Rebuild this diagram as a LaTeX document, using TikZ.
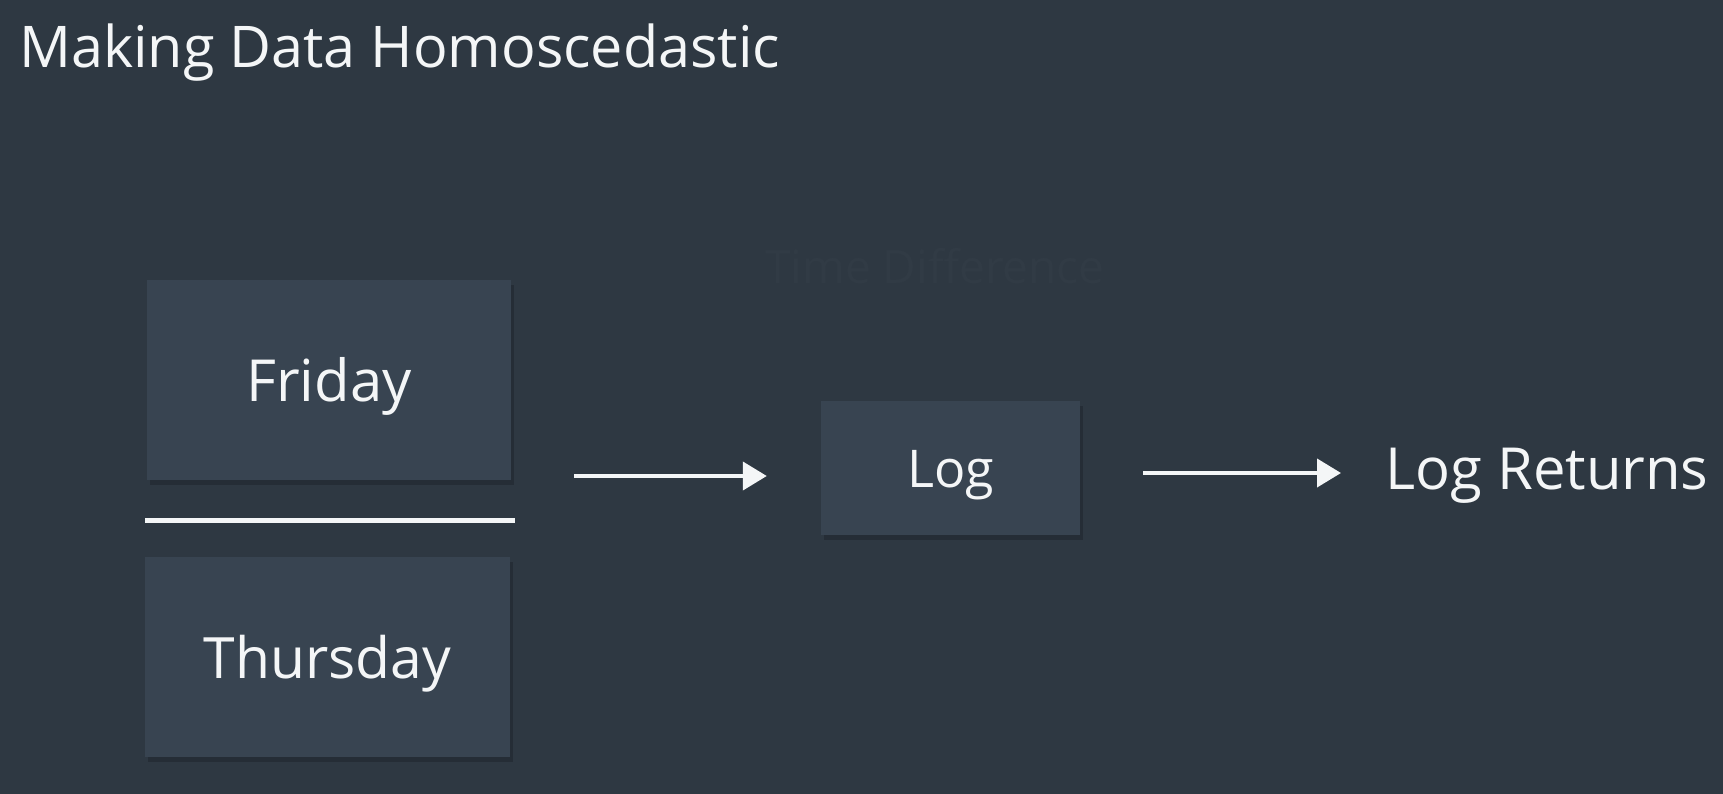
\documentclass[tikz,border=0pt]{standalone}
\usepackage{fontspec}
\setmainfont{Open Sans}
\usetikzlibrary{arrows.meta,shadows}
\definecolor{bgcol}{RGB}{46,56,66}
\definecolor{boxcol}{RGB}{56,68,81}
\definecolor{txtcol}{RGB}{244,246,247}
\definecolor{ghostcol}{RGB}{49,59,69}
\tikzset{
  box/.style={fill=boxcol, draw=none, inner sep=0pt, text=txtcol,
    font=\fontsize{58}{70}\selectfont, text height=42pt, text depth=0pt,
    drop shadow={shadow xshift=3pt, shadow yshift=-5pt, opacity=0.18, fill=black}},
  plain/.style={inner sep=0pt, text=txtcol, font=\fontsize{58}{70}\selectfont,
    text height=42pt, text depth=0pt},
  flow/.style={draw=txtcol, line width=4pt,
    -{Triangle[length=24pt,width=28pt]}},
}
\begin{document}
\begin{tikzpicture}[x=1pt,y=-1pt]
\fill[bgcol] (0,0) rectangle (1723,794);
\useasboundingbox (0,0) rectangle (1723,794);
\node[anchor=base west, inner sep=0pt, text=txtcol, font=\fontsize{57.5}{68}\selectfont] (title) at (19,68) {Making Data Homoscedastic};
\node[inner sep=0pt, text=ghostcol, font=\fontsize{46}{56}\selectfont] (ghost) at (935,266) {Time Difference};
\node[box, minimum width=364pt, minimum height=200pt] (fri) at (329,380) {Friday};
\node[box, minimum width=365pt, minimum height=200pt, font=\fontsize{57}{68}\selectfont] (thu) at (327.5,657) {Thursday};
\coordinate (barl) at (145,520);
\coordinate (barr) at (515,520);
\draw[txtcol, line width=5pt] (barl) -- (barr);
\node[box, minimum width=259pt, minimum height=134pt, font=\fontsize{52}{62}\selectfont, text height=38pt] (log) at (950.5,468) {Log};
\node[plain, anchor=west] (ret) at (1385,468) {Log Returns};
\coordinate (frac) at (511,476);
\draw[flow, shorten <=63pt, shorten >=54pt] (frac) -- (log.west |- frac) ;
\draw[flow, shorten <=63pt, shorten >=44pt] (log.east |- 0,473) -- (ret.west |- 0,473);
\end{tikzpicture}
\end{document}
